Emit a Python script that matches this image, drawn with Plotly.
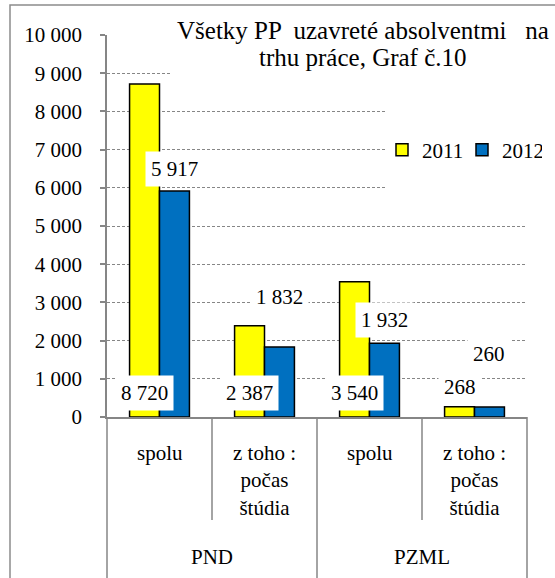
import plotly.graph_objects as go

# ---- data ----
subcategories = ["spolu", "z toho :<br>počas<br>štúdia", "spolu", "z toho :<br>počas<br>štúdia"]
groups = ["PND", "PZML"]
years = ["2011", "2012"]
values_2011 = [8720, 2387, 3540, 268]
values_2012 = [5917, 1832, 1932, 260]
y_tickvals = [0, 1000, 2000, 3000, 4000, 5000, 6000, 7000, 8000, 9000, 10000]
title_lines = ["Všetky PP  uzavreté absolventmi   na", "trhu práce, Graf č.10"]

# data labels were placed by hand in the source chart (axis units)
label_y_2011 = [630, 630, 630, 780]
label_y_2012 = [6500, 3130, 2530, 1650]

# ---- layout constants ----
W, H = 555, 578
L, R, T, B = 107, 28, 35, 161
PLOT_W = W - L - R
PLOT_H = H - T - B
BARGAP = 0.43
FONT = "Liberation Serif, Times New Roman, DejaVu Serif, serif"
GRAY = "#868686"
YELLOW = "#FFFF00"
BLUE = "#0070C0"

n = len(subcategories)
x = list(range(n))
bar_shift = PLOT_W / n * (1 - BARGAP) / 4  # half a bar width, px


def px_x(px):
    return (px - L) / PLOT_W


def px_y(py):
    return (H - B - py) / PLOT_H


def fmt(v):
    return f"{v:,}".replace(",", " ")


fig = go.Figure()
for name, vals, color in [(years[0], values_2011, YELLOW), (years[1], values_2012, BLUE)]:
    fig.add_trace(go.Bar(
        x=x, y=vals, name=name,
        marker=dict(color=color, line=dict(color="black", width=1.5)),
    ))

# --- value labels (white boxes) ---
for i in x:
    for vals, ly, shift in [(values_2011, label_y_2011, -bar_shift),
                            (values_2012, label_y_2012, bar_shift)]:
        fig.add_annotation(
            x=i, y=ly[i], xref="x", yref="y", xshift=shift,
            text=fmt(vals[i]), showarrow=False,
            bgcolor="white", borderpad=5,
            font=dict(family=FONT, size=21, color="black"),
        )

# --- category labels ---
for i in x:
    fig.add_annotation(
        x=i, y=0, xref="x", yref="paper", yanchor="top", yshift=-22,
        text=subcategories[i], showarrow=False,
        font=dict(family=FONT, size=21, color="black"),
    )
for g, name in enumerate(groups):
    fig.add_annotation(
        x=2 * g + 0.5, y=0, xref="x", yref="paper", yanchor="middle", yshift=-140,
        text=name, showarrow=False,
        font=dict(family=FONT, size=21, color="black"),
    )

# --- category separators below the axis ---
for k in range(n + 1):
    bottom = H + 5 if k % 2 == 0 else 520
    fig.add_shape(type="line", xref="paper", yref="paper",
                  x0=k / n, x1=k / n, y0=0, y1=px_y(bottom),
                  line=dict(color=GRAY, width=1.5))

# --- title (white box over the grid) ---
fig.add_shape(type="rect", xref="paper", yref="paper", layer="above",
              x0=px_x(170), x1=px_x(W + 5), y0=px_y(15), y1=px_y(86),
              fillcolor="white", line_width=0)
for j, line in enumerate(title_lines):
    fig.add_annotation(
        x=px_x(363), y=px_y(30 + 27 * j), xref="paper", yref="paper",
        xanchor="center", yanchor="middle",
        text=line, showarrow=False,
        font=dict(family=FONT, size=25, color="black"),
    )

# --- legend area box ---
fig.add_shape(type="rect", xref="paper", yref="paper", layer="above",
              x0=px_x(386), x1=px_x(W + 5), y0=px_y(100), y1=px_y(200),
              fillcolor="white", line_width=0)

# --- chart border ---
fig.add_shape(type="rect", xref="paper", yref="paper",
              x0=px_x(10), x1=px_x(W + 20), y0=px_y(5), y1=px_y(H + 20),
              line=dict(color="#8c8c8c", width=1.5))

fig.update_layout(
    width=W, height=H,
    margin=dict(l=L, r=R, t=T, b=B),
    paper_bgcolor="white", plot_bgcolor="white",
    barmode="group", bargap=BARGAP, bargroupgap=0,
    separators=", ",
    font=dict(family=FONT, size=21, color="black"),
    legend=dict(
        orientation="h", x=px_x(382), y=px_y(150),
        xanchor="left", yanchor="middle",
        bgcolor="rgba(0,0,0,0)", font=dict(family=FONT, size=21),
        entrywidth=35, tracegroupgap=0, itemwidth=30,
    ),
    showlegend=True,
)
fig.update_xaxes(
    range=[-0.5, n - 0.5], showticklabels=False, ticks="",
    showline=True, linecolor=GRAY, linewidth=1.5,
    showgrid=False, zeroline=False, automargin=False,
)
fig.update_yaxes(
    range=[0, 10000], tickvals=y_tickvals, tickformat=",",
    ticks="outside", ticklen=5, tickcolor=GRAY, tickwidth=1.5,
    showline=True, linecolor=GRAY, linewidth=1.5,
    showgrid=True, gridcolor=GRAY, gridwidth=1, griddash="3px,2px",
    zeroline=False, ticklabelstandoff=14, automargin=False,
    tickfont=dict(family=FONT, size=21, color="black"),
)

# the page body has a default 8px margin; drop it so the figure sits at 0,0
fig.write_html("out.html", config={"displayModeBar": False},
               post_script="document.body.style.margin='0';")
